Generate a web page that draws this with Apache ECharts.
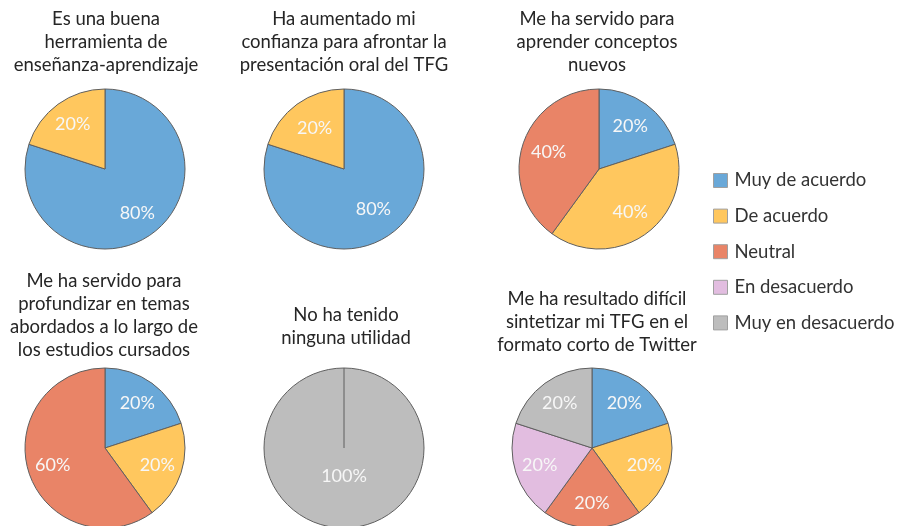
<!DOCTYPE html>
<html>
<head>
<meta charset="utf-8">
<script src="https://cdn.jsdelivr.net/npm/echarts@6/dist/echarts.min.js"></script>
<style>
  html, body { margin: 0; padding: 0; background: #fff; }
  #chart { width: 902px; height: 526px; }
</style>
</head>
<body>
<div id="chart"></div>
<script>
// respuestas de la encuesta (porcentaje por pregunta)
const categories = ['Muy de acuerdo', 'De acuerdo', 'Neutral', 'En desacuerdo', 'Muy en desacuerdo'];
const questions = [
  'Es una buena\nherramienta de\nenseñanza-aprendizaje',
  'Ha aumentado mi\nconfianza para afrontar la\npresentación oral del TFG',
  'Me ha servido para\naprender conceptos\nnuevos',
  'Me ha servido para\nprofundizar en temas\nabordados a lo largo de\nlos estudios cursados',
  'No ha tenido\nninguna utilidad',
  'Me ha resultado difícil\nsintetizar mi TFG en el\nformato corto de Twitter',
];
const q1 = [80, 20, 0, 0, 0];
const q2 = [80, 20, 0, 0, 0];
const q3 = [20, 40, 40, 0, 0];
const q4 = [20, 20, 60, 0, 0];
const q5 = [0, 0, 0, 0, 100];
const q6 = [20, 20, 20, 20, 20];
const answers = [q1, q2, q3, q4, q5, q6];

const colors = ['#69a8d8', '#ffc75e', '#e98467', '#e2bde0', '#bdbdbd'];

// posicion de cada tarta
const centers = [[105, 169], [344, 169], [599, 169], [105, 448], [344, 448], [592, 448]];
const titlePos = [[106, 8], [344, 8], [597, 8], [104, 270], [346, 304], [597, 288]];
const radius = 80;
const labelRadius = [[24, 80], [14, 80], [20, 80], [24, 80], [0, 50], [24, 80]];
const font = 'Lato, "Open Sans", sans-serif';

const myChart = echarts.init(document.getElementById('chart'));

const series = [];
answers.forEach((vals, i) => {
  const data = [];
  vals.forEach((v, k) => {
    if (v > 0) {
      data.push({ name: categories[k], value: v, itemStyle: { color: colors[k] } });
    }
  });
  // tarta
  series.push({
    type: 'pie',
    center: centers[i],
    radius: [0, radius],
    startAngle: 90,
    clockwise: true,
    silent: true,
    label: { show: false },
    labelLine: { show: false },
    itemStyle: { borderColor: '#5f5f5f', borderWidth: 1 },
    data: data,
  });
  // etiquetas de porcentaje
  series.push({
    type: 'pie',
    center: centers[i],
    radius: labelRadius[i],
    startAngle: 90,
    clockwise: true,
    silent: true,
    legendHoverLink: false,
    itemStyle: { color: 'rgba(0,0,0,0)', borderWidth: 0 },
    label: {
      show: true,
      position: 'inside',
      formatter: '{c}%',
      color: '#f7f7f7',
      fontFamily: font,
      fontSize: 18,
    },
    labelLine: { show: false },
    data: data.map(d => ({ name: d.name, value: d.value, itemStyle: { color: 'rgba(0,0,0,0)' } })),
  });
});

const titles = questions.map((q, i) => ({
  text: q,
  left: titlePos[i][0],
  top: titlePos[i][1],
  textAlign: 'center',
  padding: 0,
  textStyle: {
    fontFamily: font,
    fontSize: 18.5,
    fontWeight: 'normal',
    color: '#262626',
    lineHeight: 22.8,
  },
}));

// linea del sector completo (100%)
const c5 = centers[4];

myChart.setOption({
  animation: false,
  title: titles,
  legend: {
    orient: 'vertical',
    left: 713,
    top: 171,
    padding: 0,
    itemWidth: 14,
    itemHeight: 14,
    itemGap: 16.6,
    icon: 'rect',
    data: categories,
    itemStyle: { borderColor: '#a0a0a0', borderWidth: 1 },
    textStyle: { fontFamily: font, fontSize: 18.5, color: '#333', padding: [0, 0, 0, 2] },
  },
  graphic: [{
    type: 'line',
    silent: true,
    z: 100,
    shape: { x1: c5[0], y1: c5[1] - radius, x2: c5[0], y2: c5[1] },
    style: { stroke: '#5f5f5f', lineWidth: 1 },
  }],
  series: series,
});
</script>
</body>
</html>
